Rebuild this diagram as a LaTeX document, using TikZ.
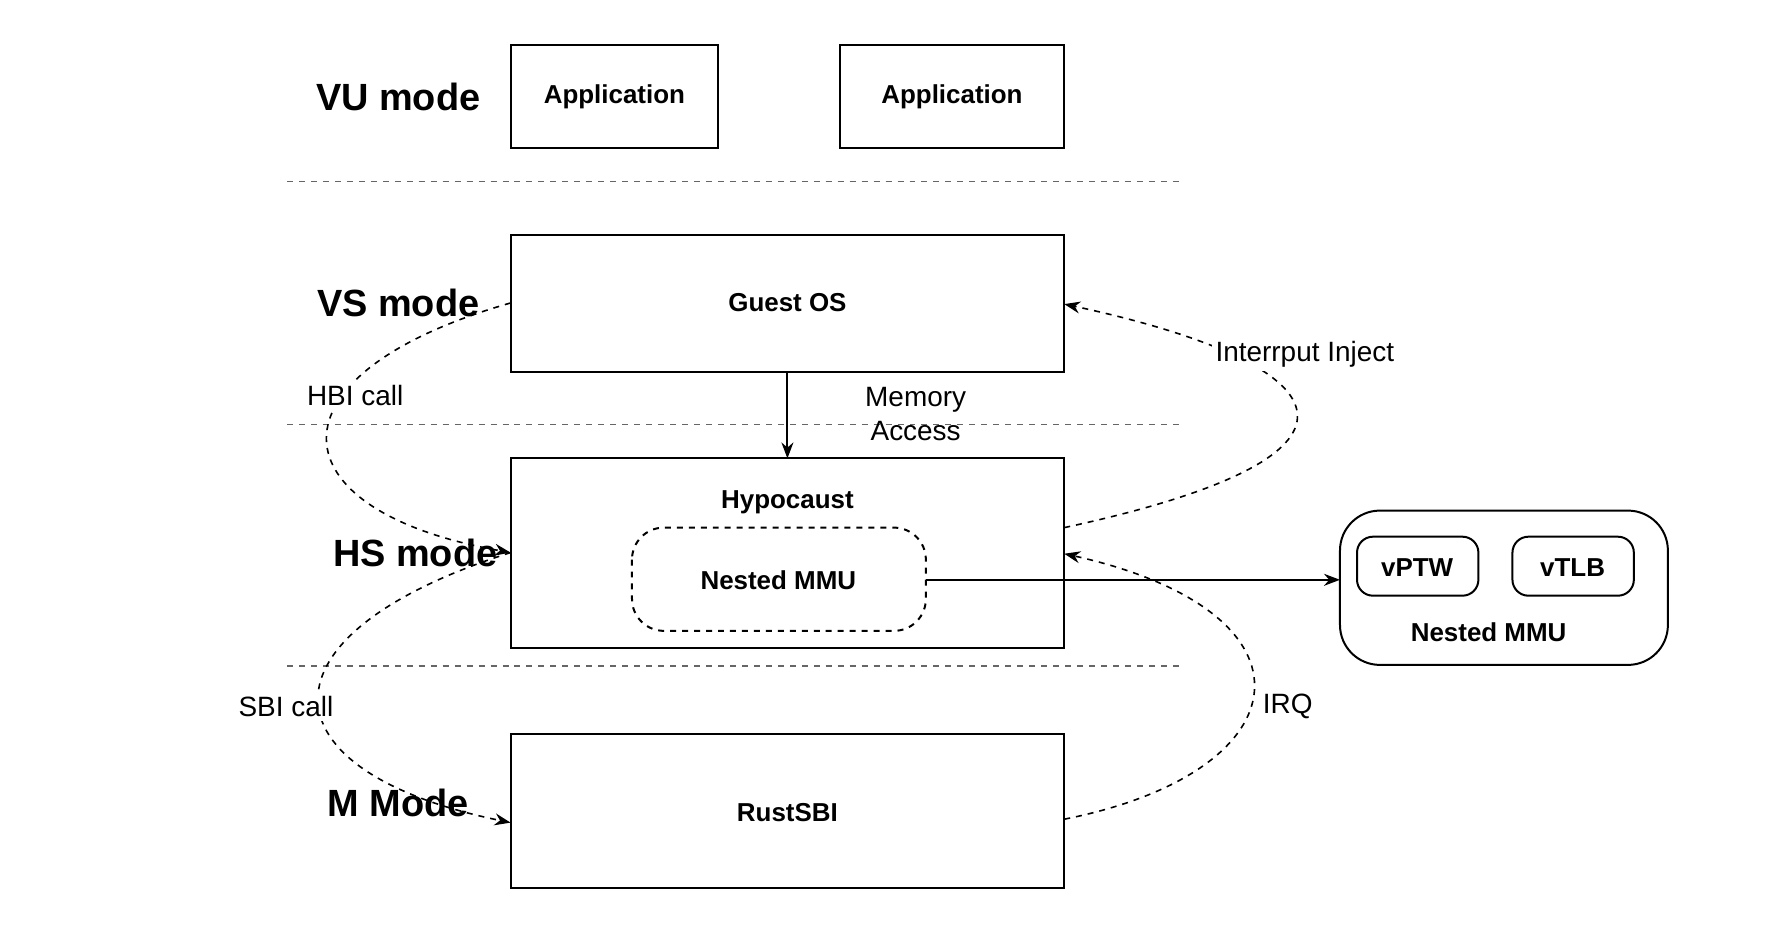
\documentclass[tikz,border=0pt]{standalone}
\usepackage{fontspec}
\setmainfont{Liberation Sans}
\usetikzlibrary{arrows.meta}
\tikzset{
  modelbl/.style={font=\bfseries\fontsize{9.5}{11}\selectfont},
  boxtxt/.style={font=\bfseries\fontsize{6.5}{8}\selectfont},
  plain/.style={font=\fontsize{7}{8.5}\selectfont},
  sepline/.style={dashed,dash pattern=on 1.5pt off 1.5pt,gray!80!black,line width=0.3pt},
  callline/.style={dashed,dash pattern=on 1.5pt off 1.5pt,line width=0.4pt,-{Stealth[length=4pt]}},
}
\begin{document}
\begin{tikzpicture}[x=0.01cm,y=-0.01cm,line width=0.5pt]
  \useasboundingbox (0,0) rectangle (1560,823);
  % separators between the modes
  \draw[sepline] (253,160) -- (1043,160);
  \draw[sepline] (253,374) -- (1043,374);
  \draw[sepline] (253,587) -- (1043,587);
  % mode labels
  \node[modelbl] (vu) at (351,85) {VU mode};
  \node[modelbl] (vs) at (351,267) {VS mode};
  \node[modelbl] (hs) at (366,487) {HS mode};
  \node[modelbl] (m) at (351,708) {M Mode};
  % boxes
  \draw (450,40) rectangle (633,130) node[midway,boxtxt] (app1) {Application};
  \draw (740,40) rectangle (938,130) node[midway,boxtxt] (app2) {Application};
  \draw (450,207) rectangle (938,328);
  \node[boxtxt] (guest) at (694,267) {Guest OS};
  \coordinate (guestS) at (694,328);
  \coordinate (guestW) at (450,267);
  \coordinate (guestE) at (938,268);
  \draw (450,404) rectangle (938,571);
  \node[boxtxt] (hypo) at (694,443) {Hypocaust};
  \coordinate (hypoN) at (694,404);
  \coordinate (hypoW) at (450,487);
  \coordinate (hypoE) at (938,465);
  \coordinate (hypoE2) at (938,488);
  \draw[dashed,dash pattern=on 1.5pt off 1.5pt,rounded corners=8] (557,465) rectangle (816,556);
  \node[boxtxt] (nmmu) at (686,511) {Nested MMU};
  \coordinate (nmmuE) at (816,511);
  \draw (450,647) rectangle (938,783);
  \node[boxtxt] (sbi) at (694,716) {RustSBI};
  \coordinate (sbiW) at (450,725);
  \coordinate (sbiE) at (938,722);
  % nested MMU detail
  \draw[rounded corners=10] (1181,450) rectangle (1470,586);
  \coordinate (detW) at (1181,511);
  \draw[rounded corners=4] (1196,473) rectangle (1303,525);
  \node[boxtxt] (vptw) at (1249,500) {vPTW};
  \draw[rounded corners=4] (1333,473) rectangle (1440,525);
  \node[boxtxt] (vtlb) at (1386,500) {vTLB};
  \node[boxtxt] (det) at (1312,557) {Nested MMU};
  % connectors
  \draw[-{Stealth[length=4pt]}] (guestS) -- (hypoN);
  \node[plain,align=center] (mem) at (807,365) {Memory\\Access};
  \draw[-{Stealth[length=4pt]}] (nmmuE) -- (detW);
  \draw[callline] (guestW) .. controls (230,330) and (240,450) .. (hypoW);
  \draw[callline] (hypoW) .. controls (220,560) and (230,680) .. (sbiW);
  \draw[callline] (hypoE) .. controls (1240,400) and (1180,320) .. (guestE);
  \draw[callline] (sbiE) .. controls (1150,680) and (1170,540) .. (hypoE2);
  \node[plain,fill=white,inner sep=1pt] (hbi) at (313,349) {HBI call};
  \node[plain,fill=white,inner sep=1pt] (sbic) at (252,623) {SBI call};
  \node[plain,fill=white,inner sep=1pt] (inj) at (1150,312) {Interrput Inject};
  \node[plain,fill=white,inner sep=1pt] (irq) at (1135,623) {IRQ};
\end{tikzpicture}
\end{document}
